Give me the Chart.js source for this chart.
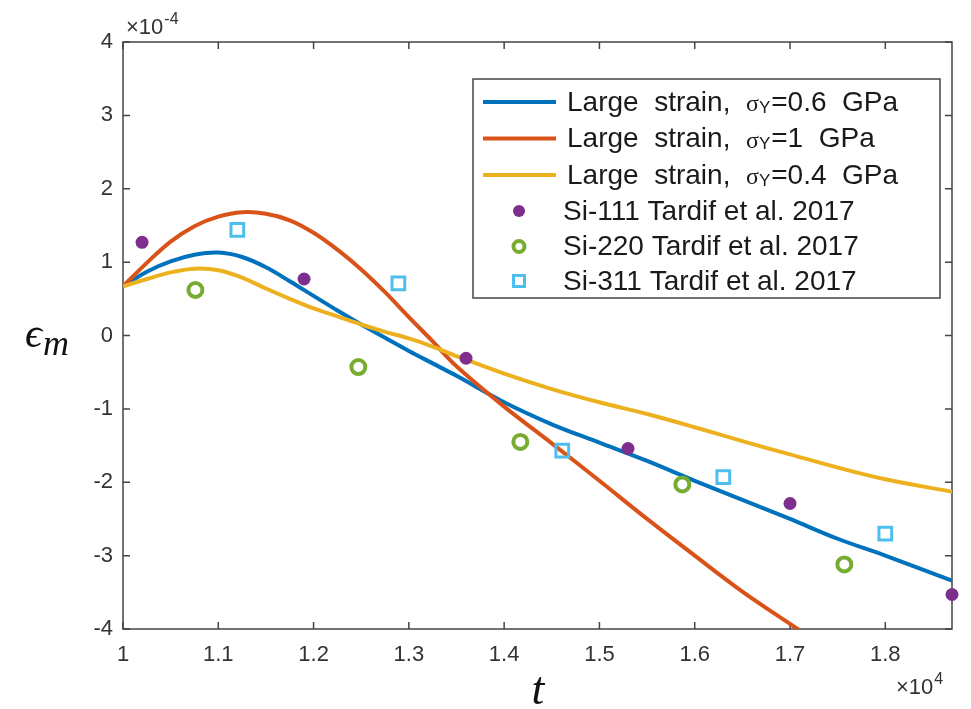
<!DOCTYPE html>
<html>
<head>
<meta charset="utf-8">
<script src="https://cdn.jsdelivr.net/npm/chart.js@4"></script>
<style>
  html, body { margin: 0; padding: 0; background: #ffffff; }
  #wrap { width: 971px; height: 709px; position: relative; }
</style>
</head>
<body>
<div id="wrap"><canvas id="c" width="971" height="709"></canvas></div>
<script>
// ---- data (t in units of 1e4, strain in units of 1e-4) ----
const curveT = [1.0, 1.025, 1.05, 1.075, 1.1, 1.125, 1.15, 1.175, 1.2, 1.225, 1.25, 1.275, 1.3, 1.325, 1.35, 1.4, 1.45, 1.5, 1.55, 1.6, 1.65, 1.7, 1.75, 1.8, 1.87];
const blue06 = [0.67, 0.87, 1.01, 1.10, 1.13, 1.07, 0.93, 0.74, 0.54, 0.34, 0.15, -0.03, -0.21, -0.38, -0.55, -0.91, -1.21, -1.46, -1.71, -1.98, -2.24, -2.50, -2.77, -3.00, -3.34];
const yellow04 = [0.67, 0.77, 0.86, 0.91, 0.89, 0.79, 0.64, 0.50, 0.37, 0.26, 0.15, 0.05, -0.04, -0.15, -0.28, -0.52, -0.73, -0.91, -1.07, -1.25, -1.44, -1.62, -1.80, -1.96, -2.13];
const orangeT = [1.0, 1.025, 1.05, 1.075, 1.1, 1.125, 1.15, 1.175, 1.2, 1.225, 1.25, 1.275, 1.3, 1.325, 1.35, 1.4, 1.45, 1.5, 1.55, 1.6, 1.65, 1.7, 1.715];
const orange1 = [0.67, 0.99, 1.28, 1.49, 1.62, 1.68, 1.66, 1.57, 1.40, 1.17, 0.90, 0.59, 0.25, -0.08, -0.42, -0.97, -1.47, -1.98, -2.50, -3.00, -3.49, -3.93, -4.06];

const si111T = [1.02, 1.19, 1.36, 1.53, 1.70, 1.87];
const si111 = [1.27, 0.77, -0.31, -1.54, -2.29, -3.53];
const si220T = [1.076, 1.247, 1.417, 1.587, 1.757];
const si220 = [0.62, -0.43, -1.45, -2.03, -3.12];
const si311T = [1.12, 1.289, 1.461, 1.63, 1.80];
const si311 = [1.44, 0.71, -1.57, -1.93, -2.70];

const xTicks = [1, 1.1, 1.2, 1.3, 1.4, 1.5, 1.6, 1.7, 1.8];
const yTicks = [-4, -3, -2, -1, 0, 1, 2, 3, 4];

const legendLabels = [
  ['Large  strain,  ', 'σ', 'Y', '=0.6  GPa'],
  ['Large  strain,  ', 'σ', 'Y', '=1  GPa'],
  ['Large  strain,  ', 'σ', 'Y', '=0.4  GPa'],
  ['Si-111 Tardif et al. 2017'],
  ['Si-220 Tardif et al. 2017'],
  ['Si-311 Tardif et al. 2017']
];

const pts = (xs, ys) => xs.map((x, i) => ({ x: x, y: ys[i] }));
const AX = '#333333';
const SANS = '"Liberation Sans", Arial, sans-serif';
const SERIF = '"Liberation Serif", "DejaVu Serif", serif';

const lineDs = (data, color, order) => ({
  type: 'scatter', data, showLine: true, borderColor: color, backgroundColor: color,
  borderWidth: 4, pointRadius: 0, pointHoverRadius: 0, tension: 0.35, order
});

const matlabPlugin = {
  id: 'matlabAxes',
  beforeDatasetsDraw(chart) {
    const { ctx, chartArea: a, scales: { x, y } } = chart;
    ctx.save();
    ctx.strokeStyle = '#444444';
    ctx.lineWidth = 1.5;
    ctx.beginPath();
    ctx.rect(a.left, a.top, a.right - a.left, a.bottom - a.top);
    ctx.stroke();
    ctx.beginPath();
    const tl = 7;
    xTicks.forEach(v => {
      const px = x.getPixelForValue(v);
      ctx.moveTo(px, a.bottom); ctx.lineTo(px, a.bottom - tl);
      ctx.moveTo(px, a.top); ctx.lineTo(px, a.top + tl);
    });
    yTicks.forEach(v => {
      const py = y.getPixelForValue(v);
      ctx.moveTo(a.left, py); ctx.lineTo(a.left + tl, py);
      ctx.moveTo(a.right, py); ctx.lineTo(a.right - tl, py);
    });
    ctx.stroke();
    ctx.restore();
  },
  afterDraw(chart) {
    const { ctx, chartArea: a } = chart;
    ctx.save();
    ctx.fillStyle = AX;
    ctx.textBaseline = 'alphabetic';
    ctx.textAlign = 'left';
    // exponents
    const expo = (x0, base, sup) => {
      ctx.font = '22px ' + SANS;
      ctx.fillText('×10', x0, base);
      const w = ctx.measureText('×10').width;
      ctx.font = '16px ' + SANS;
      ctx.fillText(sup, x0 + w + 1, base - 10);
    };
    expo(a.left + 3, 34, '-4');
    expo(a.right - 56, 694, '4');
    // axis titles
    ctx.fillStyle = '#111111';
    ctx.font = 'italic 42px ' + SERIF;
    ctx.fillText('\u03F5', 25, 347);
    const ew = ctx.measureText('\u03F5').width;
    ctx.font = 'italic 36px ' + SERIF;
    ctx.fillText('m', 25 + ew + 1, 355);
    ctx.font = 'italic 46px ' + SERIF;
    ctx.textAlign = 'center';
    ctx.fillText('t', 538, 704);
    ctx.textAlign = 'left';

    // legend
    const L = 473, T = 79, R = 940, B = 298;
    ctx.fillStyle = '#ffffff';
    ctx.fillRect(L, T, R - L, B - T);
    ctx.strokeStyle = '#444444';
    ctx.lineWidth = 1.5;
    ctx.strokeRect(L, T, R - L, B - T);
    const rowsY = [102, 138.5, 175, 211, 246.5, 281];
    const ds = chart.data.datasets;
    ctx.textBaseline = 'middle';
    legendLabels.forEach((parts, i) => {
      const d = ds[i];
      const cy = rowsY[i];
      let tx;
      if (i < 3) {
        ctx.strokeStyle = d.borderColor;
        ctx.lineWidth = 4;
        ctx.beginPath(); ctx.moveTo(483, cy); ctx.lineTo(556, cy); ctx.stroke();
        tx = 567;
      } else {
        ctx.save();
        if (d.pointStyle === 'rect') {
          ctx.strokeStyle = d.borderColor; ctx.lineWidth = d.borderWidth;
          ctx.strokeRect(519 - 5.5, cy - 5.5, 11, 11);
        } else if (i === 3) {
          ctx.fillStyle = d.backgroundColor;
          ctx.beginPath(); ctx.arc(519, cy, 6, 0, Math.PI * 2); ctx.fill();
        } else {
          ctx.strokeStyle = d.borderColor; ctx.lineWidth = d.borderWidth;
          ctx.beginPath(); ctx.arc(519, cy, 5.5, 0, Math.PI * 2); ctx.stroke();
        }
        ctx.restore();
        tx = 563;
      }
      ctx.fillStyle = '#1a1a1a';
      ctx.font = '28px ' + SANS;
      ctx.fillText(parts[0], tx, cy + 1);
      tx += ctx.measureText(parts[0]).width;
      if (parts.length > 1) {
        ctx.font = '24px ' + SERIF;
        ctx.fillText(parts[1], tx, cy + 3);
        tx += ctx.measureText(parts[1]).width;
        ctx.font = '17px ' + SANS;
        ctx.fillText(parts[2], tx, cy + 6);
        tx += ctx.measureText(parts[2]).width + 1;
        ctx.font = '28px ' + SANS;
        ctx.fillText(parts[3], tx, cy + 1);
      }
    });
    ctx.restore();
  }
};

new Chart(document.getElementById('c'), {
  type: 'scatter',
  data: {
    datasets: [
      lineDs(pts(curveT, blue06), '#0072BD', 6),
      lineDs(pts(orangeT, orange1), '#D95319', 5),
      lineDs(pts(curveT, yellow04), '#EDB120', 4),
      { type: 'scatter', data: pts(si111T, si111), pointStyle: 'circle', pointRadius: 6.5, pointHoverRadius: 6.5,
        backgroundColor: '#7E2F8E', borderColor: '#7E2F8E', borderWidth: 0, clip: false, order: 3 },
      { type: 'scatter', data: pts(si220T, si220), pointStyle: 'circle', pointRadius: 7, pointHoverRadius: 7,
        backgroundColor: 'rgba(0,0,0,0)', borderColor: '#77AC30', borderWidth: 4, clip: false, order: 2 },
      { type: 'scatter', data: pts(si311T, si311), pointStyle: 'rect', pointRadius: 9, pointHoverRadius: 9,
        backgroundColor: 'rgba(0,0,0,0)', borderColor: '#4DBEEE', borderWidth: 3, clip: false, order: 1 }
    ]
  },
  options: {
    responsive: false,
    animation: false,
    events: [],
    layout: { padding: { top: 42, right: 19, left: 0, bottom: 0 } },
    plugins: { legend: { display: false }, tooltip: { enabled: false } },
    scales: {
      x: {
        type: 'linear', min: 1, max: 1.87,
        afterFit: s => { s.height = 80; },
        afterBuildTicks: s => { s.ticks = xTicks.map(v => ({ value: v })); },
        grid: { display: false, drawTicks: false },
        border: { display: false },
        ticks: { autoSkip: false, maxRotation: 0, padding: 13, color: AX,
          font: { family: SANS, size: 22 },
          callback: v => String(Math.round(v * 10) / 10) }
      },
      y: {
        type: 'linear', min: -4, max: 4,
        afterFit: s => { s.width = 123; },
        afterBuildTicks: s => { s.ticks = yTicks.map(v => ({ value: v })); },
        grid: { display: false, drawTicks: false },
        border: { display: false },
        ticks: { autoSkip: false, padding: 10, color: AX,
          font: { family: SANS, size: 22 },
          callback: v => String(v) }
      }
    }
  },
  plugins: [matlabPlugin]
});
</script>
</body>
</html>
